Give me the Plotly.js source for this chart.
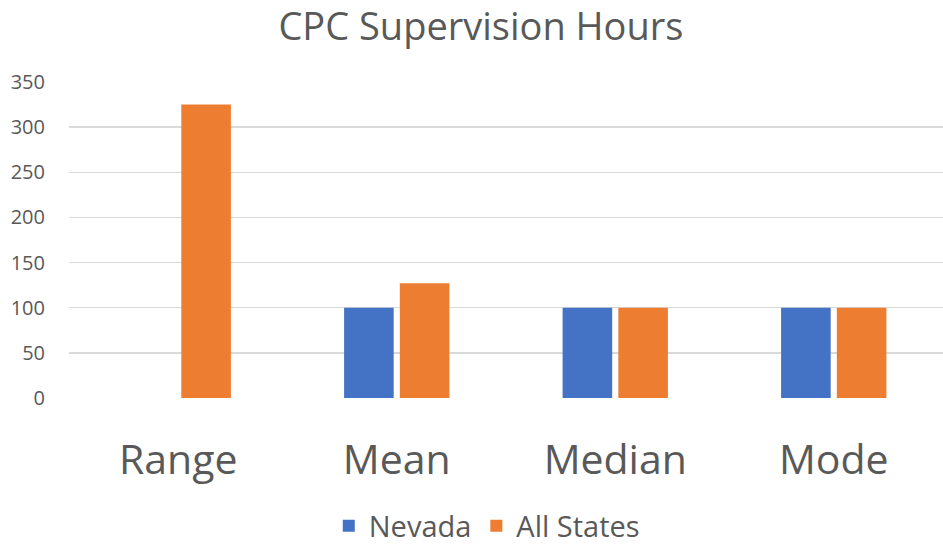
<!DOCTYPE html>
<html><head><meta charset="utf-8">
<script src="https://cdn.plot.ly/plotly-3.0.1.min.js"></script>
<style>html,body{margin:0;padding:0;background:#fff}#chart{width:943px;height:553px}</style>
</head><body><div id="chart"></div>
<script>
const categories = ["Range", "Mean", "Median", "Mode"];
const nevada = [0, 100, 100, 100];
const allStates = [325, 127, 100, 100];
const tickVals = [0, 50, 100, 150, 200, 250, 300, 350];

const FONT = "Open Sans, sans-serif";
const traces = [
  {type: "bar", name: "Nevada", x: categories, y: nevada, marker: {color: "#4472C4"}},
  {type: "bar", name: "All States", x: categories, y: allStates, marker: {color: "#ED7D31"}}
];
const layout = {
  width: 943, height: 553,
  margin: {l: 69, r: 0, t: 82, b: 155},
  paper_bgcolor: "#fff", plot_bgcolor: "#fff",
  font: {family: FONT, color: "#595959"},
  title: {text: "CPC Supervision Hours", x: 0.51, xanchor: "center", y: 0.952, yanchor: "middle",
          font: {size: 38, color: "#595959", family: FONT}},
  barmode: "group", bargap: 0.49, bargroupgap: 0.11,
  xaxis: {showgrid: false, zeroline: false, showline: false, ticks: "",
          tickfont: {size: 41, color: "#595959", family: FONT}, ticklabelstandoff: 34},
  yaxis: {range: [0, 350], tickvals: tickVals, showgrid: true, gridcolor: "#D9D9D9", gridwidth: 1.3,
          zeroline: false, showline: false, ticks: "", layer: "above traces",
          tickfont: {size: 20, color: "#595959", family: FONT}, ticklabelstandoff: 23},
  showlegend: true,
  legend: {orientation: "h", x: 0.478, xanchor: "center", y: -0.405, yanchor: "middle",
           font: {size: 29, color: "#595959", family: FONT}, itemwidth: 30, traceorder: "normal"}
};
Plotly.newPlot("chart", traces, layout, {staticPlot: true, displayModeBar: false});
</script></body></html>
